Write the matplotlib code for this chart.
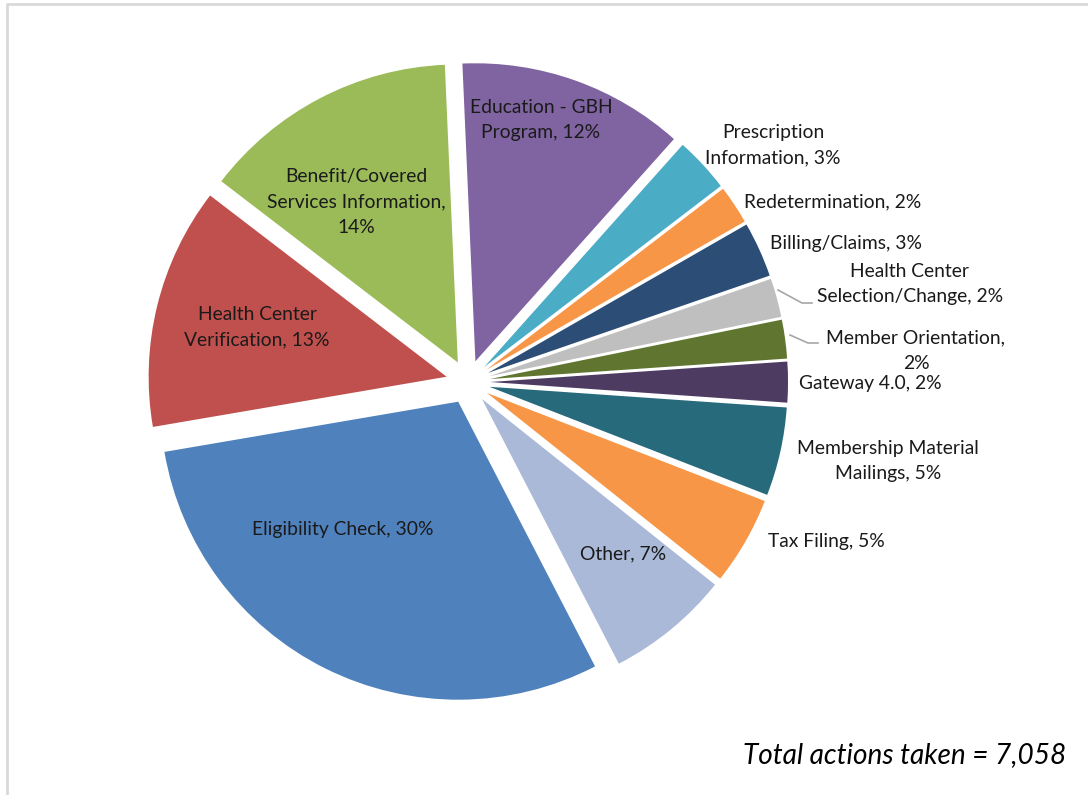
import matplotlib
matplotlib.use("Agg")
import matplotlib.pyplot as plt

# slices, clockwise from 12 o'clock (Excel order)
labels = ["Education - GBH\nProgram, 12%", "Prescription\nInformation, 3%", "Redetermination, 2%",
          "Billing/Claims, 3%", "Health Center\nSelection/Change, 2%", "Member Orientation,\n2%",
          "Gateway 4.0, 2%", "Membership Material\nMailings, 5%", "Tax Filing, 5%", "Other, 7%",
          "Eligibility Check, 30%", "Health Center\nVerification, 13%",
          "Benefit/Covered\nServices Information,\n14%"]
# shares (%); labels show the rounded values
shares = [12.3, 3.0, 2.1, 3.0, 2.1, 2.1, 2.2, 4.8, 4.8, 6.7, 29.9, 13.1, 13.9]
colors = ["#8064A2", "#4BACC6", "#F79646", "#2C4D75", "#BFBFBF", "#5F7530", "#4D3B62",
          "#276A7C", "#F79646", "#AAB9D8", "#4F81BD", "#C0504D", "#9BBB59"]

# label positions in pixels (x, y from top)
lab_pos = [(541, 120), (773, 145), (833, 202), (846, 243), (910, 284), (916, 351),
           (870, 384), (888, 461), (826, 542), (623, 554), (343, 529), (257, 327), (356, 202)]

W, H = 1088, 795
plt.rcParams['font.family'] = ['Lato', 'DejaVu Sans']
fig = plt.figure(figsize=(W / 100, H / 100), dpi=100)
ax = fig.add_axes([0, 0, 1, 1])

cx, cy, r = 468, 382, 298
ax.pie(shares, colors=colors, startangle=92.5, counterclock=False,
       explode=[22] * len(shares), center=(cx, H - cy), radius=r,
       wedgeprops=dict(linewidth=0))

for txt, (x, y) in zip(labels, lab_pos):
    ax.text(x, H - y, txt, ha="center", va="center", fontsize=13.9, color="#1a1a1a",
            linespacing=1.6)

# leader lines
ax.plot([778, 802, 812], [H - 290, H - 303, H - 303], color="#A6A6A6", lw=1.2)
ax.plot([790, 808, 818], [H - 335, H - 343, H - 343], color="#A6A6A6", lw=1.2)

# chart border (top / left visible)
ax.plot([7, 7, W + 5], [-5, H - 4, H - 4], color="#D9D9D9", lw=2)

ax.text(1066, H - 755, "Total actions taken = 7,058", ha="right", va="center",
        fontsize=20.2, style="italic", color="black")

ax.set_xlim(0, W)
ax.set_ylim(0, H)
ax.set_aspect("equal")
ax.axis("off")
fig.savefig("out.png", dpi=100)
